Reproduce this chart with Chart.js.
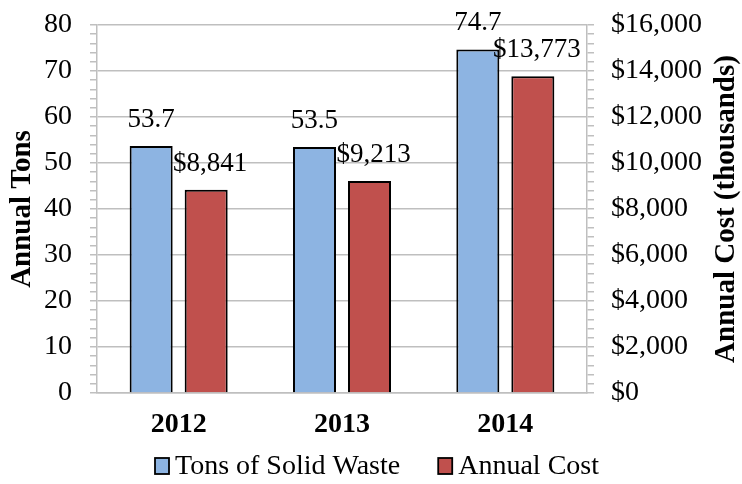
<!DOCTYPE html>
<html>
<head>
<meta charset="utf-8">
<script src="https://cdn.jsdelivr.net/npm/chart.js@4.4.1/dist/chart.umd.min.js"></script>
<style>
  html, body { margin: 0; padding: 0; background: #fff; }
  #wrap { width: 742px; height: 484px; position: relative; }
</style>
</head>
<body>
<div id="wrap"><canvas id="c" width="742" height="484"></canvas></div>
<script>
// Yearly solid waste tonnage and its annual cost
const years = ['2012', '2013', '2014'];
const tonsOfWaste = [53.7, 53.5, 74.7];
const annualCost = [8841, 9213, 13773];   // thousands of dollars
const tonsTicks = { max: 80, step: 2, labelEvery: 10 };
const costTicks = { max: 16000, step: 400, labelEvery: 2000 };
const costAxisTitle = 'Annual Cost (thousands)';

const FONT = "'Liberation Serif', 'Times New Roman', serif";
const GRID = '#BFBFBF';
const TEXT = '#000000';

const fmtCost = v => '$' + Math.round(v).toLocaleString('en-US');

// Value labels above each bar
const valueLabels = {
  id: 'valueLabels',
  afterDatasetsDraw(chart) {
    const ctx = chart.ctx;
    ctx.save();
    ctx.font = '27px ' + FONT;
    ctx.fillStyle = TEXT;
    ctx.textAlign = 'center';
    ctx.textBaseline = 'alphabetic';
    chart.data.datasets.forEach((ds, di) => {
      const meta = chart.getDatasetMeta(di);
      meta.data.forEach((bar, i) => {
        const v = ds.data[i];
        const txt = di === 0 ? v.toFixed(1) : fmtCost(v);
        const dx = di === 0 ? 0 : 4;
        ctx.fillText(txt, bar.x + dx, bar.y - 19);
      });
    });
    ctx.restore();
  }
};

// Right-hand axis title, reading bottom to top like the left one
const rightTitle = {
  id: 'rightTitle',
  afterDraw(chart) {
    const ctx = chart.ctx;
    const area = chart.chartArea;
    ctx.save();
    ctx.translate(727, (area.top + area.bottom) / 2);
    ctx.rotate(-Math.PI / 2);
    ctx.font = 'bold 29px ' + FONT;
    ctx.fillStyle = TEXT;
    ctx.textAlign = 'center';
    ctx.textBaseline = 'middle';
    ctx.fillText(costAxisTitle, 0, 0);
    ctx.restore();
  }
};

// Legend row under the axis
const bottomLegend = {
  id: 'bottomLegend',
  afterDraw(chart) {
    const ctx = chart.ctx;
    ctx.save();
    ctx.font = '28px ' + FONT;
    const box = 14, boxH = 16, gap = 6, itemGap = 38;
    const items = chart.data.datasets.map(ds => ({
      label: ds.label, color: ds.backgroundColor, w: ctx.measureText(ds.label).width
    }));
    const total = items.reduce((s, it) => s + box + gap + it.w, 0) + itemGap * (items.length - 1);
    let x = 377 - total / 2;
    const cy = 466;
    items.forEach(it => {
      ctx.fillStyle = it.color;
      ctx.fillRect(x, cy - boxH / 2, box, boxH);
      ctx.strokeStyle = '#000';
      ctx.lineWidth = 1.8;
      ctx.strokeRect(x, cy - boxH / 2, box, boxH);
      ctx.fillStyle = TEXT;
      ctx.textAlign = 'left';
      ctx.textBaseline = 'middle';
      ctx.fillText(it.label, x + box + gap, cy + 1);
      x += box + gap + it.w + itemGap;
    });
    ctx.restore();
  }
};

// Vertical axes: fixed width, no extra room reserved for the end labels
function fixVertical(width) {
  return scale => {
    scale.width = width;
    scale.paddingTop = 0;
    scale.paddingBottom = 0;
  };
}

new Chart(document.getElementById('c'), {
  type: 'bar',
  data: {
    labels: years,
    datasets: [
      {
        label: 'Tons of Solid Waste',
        data: tonsOfWaste,
        yAxisID: 'yTons',
        backgroundColor: '#8DB4E2',
        borderColor: '#000000',
        borderWidth: 2,
        categoryPercentage: 0.6736,
        barPercentage: 0.782
      },
      {
        label: 'Annual Cost',
        data: annualCost,
        yAxisID: 'yCost',
        backgroundColor: '#C0504D',
        borderColor: '#000000',
        borderWidth: 2,
        categoryPercentage: 0.6736,
        barPercentage: 0.782
      }
    ]
  },
  options: {
    responsive: false,
    animation: false,
    devicePixelRatio: 1,
    layout: { padding: { top: 25, bottom: 47, left: 0, right: 0 } },
    plugins: {
      legend: { display: false },
      tooltip: { enabled: false }
    },
    scales: {
      x: {
        grid: { display: false, drawTicks: false },
        border: { display: true, color: GRID, width: 1.5 },
        ticks: {
          color: TEXT,
          padding: 15,
          font: { family: FONT, size: 28, weight: 'bold' }
        },
        afterFit(scale) {
          scale.height = 44;
          scale.paddingLeft = 0;
          scale.paddingRight = 0;
        }
      },
      yTons: {
        position: 'left',
        min: 0,
        max: tonsTicks.max,
        grid: {
          color: ctx => (ctx.tick && ctx.tick.value % tonsTicks.labelEvery === 0) ? GRID : 'rgba(0,0,0,0)',
          tickColor: GRID,
          tickLength: 7,
          lineWidth: 1.5
        },
        border: { display: true, color: GRID, width: 1.5 },
        ticks: {
          stepSize: tonsTicks.step,
          autoSkip: false,
          maxTicksLimit: 100,
          padding: 18,
          color: TEXT,
          font: { family: FONT, size: 28 },
          callback: v => (v % tonsTicks.labelEvery === 0 ? String(v) : '')
        },
        title: {
          display: true,
          text: 'Annual Tons',
          color: TEXT,
          padding: { top: 5, bottom: 0 },
          font: { family: FONT, size: 29, weight: 'bold' }
        },
        afterFit: fixVertical(97)
      },
      yCost: {
        position: 'right',
        min: 0,
        max: costTicks.max,
        grid: {
          drawOnChartArea: false,
          tickColor: GRID,
          tickLength: 7,
          lineWidth: 1.5
        },
        border: { display: true, color: GRID, width: 1.5 },
        ticks: {
          stepSize: costTicks.step,
          autoSkip: false,
          maxTicksLimit: 100,
          padding: 17,
          color: TEXT,
          font: { family: FONT, size: 28 },
          callback: v => (v % costTicks.labelEvery === 0 ? fmtCost(v) : '')
        },
        afterFit: fixVertical(155)
      }
    }
  },
  plugins: [valueLabels, rightTitle, bottomLegend]
});
</script>
</body>
</html>
